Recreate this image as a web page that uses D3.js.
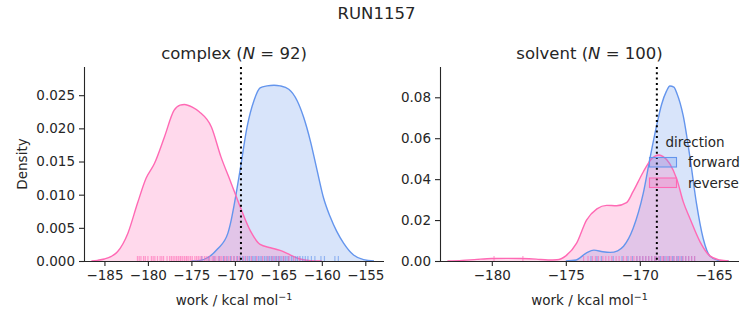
<!DOCTYPE html>
<html>
<head>
<meta charset="utf-8">
<script src="https://cdn.jsdelivr.net/npm/d3@7"></script>
<style>
  html, body { margin: 0; padding: 0; background: #fff; }
  svg text { font-family: "DejaVu Sans", sans-serif; fill: #262626; }
</style>
</head>
<body>
<svg id="chart" width="753" height="325"></svg>
<script>
// ---------------- data ----------------
const suptitle = "RUN1157";
const directions = ["forward", "reverse"];
const colors = { forward: "#6495ED", reverse: "#FF69B4" };

// complex panel
const complexN = 92;
const complexTicksX = [-185, -180, -175, -170, -165, -160, -155];
const complexTicksY = [0, 0.005, 0.010, 0.015, 0.020, 0.025];
const complexForwardKDE = [
  [-175, 0], [-174, 0.0001], [-173, 0.0006], [-172, 0.0018], [-170.8, 0.0042],
  [-170.5, 0.0057], [-170.05, 0.0087], [-169.4, 0.0137], [-168.6, 0.0202],
  [-167.8, 0.0242], [-167.1, 0.0261], [-166.3, 0.0264], [-165.5, 0.0265],
  [-164.8, 0.0264], [-163.8, 0.0259], [-162.85, 0.0242], [-162.1, 0.0217],
  [-161.3, 0.0180], [-160.55, 0.0137], [-159.8, 0.0095], [-159.05, 0.0067],
  [-158.3, 0.0045], [-157.5, 0.0027], [-156.35, 0.0009], [-155.2, 0.0002], [-154, 0]
];
const complexReverseKDE = [
  [-186.5, 0], [-185.8, 0.0001], [-185, 0.0003], [-184.2, 0.0007], [-183.5, 0.0014],
  [-182.3, 0.0042], [-181.2, 0.0087], [-180.2, 0.0125], [-179.25, 0.0147],
  [-178.1, 0.0187], [-177, 0.0227], [-176.3, 0.0235], [-175.8, 0.0236],
  [-174.9, 0.0232], [-174.1, 0.0225], [-172.7, 0.0202], [-171.6, 0.0157],
  [-170.5, 0.0120], [-169.4, 0.0082], [-168.2, 0.0045], [-167.1, 0.0025],
  [-165.9, 0.0020], [-164.8, 0.0016], [-163.6, 0.0009], [-162.5, 0.0003],
  [-161.3, 0.00005], [-160, 0]
];
const complexForwardRug = [-173.8,-173.0,-172.4,-171.8,-171.3,-170.9,-170.5,-170.1,-169.7,-169.4,-169.1,-168.8,-168.5,-168.3,-168.0,-167.8,-167.6,-167.3,-167.1,-166.9,-166.6,-166.4,-166.2,-166.0,-165.8,-165.6,-165.4,-165.2,-165.0,-164.8,-164.6,-164.4,-164.2,-164.0,-163.8,-163.5,-163.3,-163.0,-162.8,-162.5,-162.2,-161.9,-161.6,-161.2,-160.8,-160.1,-159.7,-158.5,-158.1];
const complexReverseRug = [-181.2,-181.0,-180.8,-180.5,-180.3,-180.0,-179.6,-179.4,-179.2,-178.9,-178.6,-178.4,-178.2,-177.8,-177.5,-177.3,-177.1,-176.9,-176.7,-176.5,-176.3,-176.2,-176.0,-175.8,-175.6,-175.5,-175.3,-175.1,-174.9,-174.6,-174.4,-174.2,-174.0,-173.8,-173.5,-173.3,-173.1,-172.9,-172.6,-172.4,-172.2,-171.9,-171.7,-171.5,-171.2,-171.0,-170.7,-170.4,-170.1,-169.8,-169.5,-169.0,-168.6,-168.1,-167.5,-166.8,-166.2,-165.7,-165.3,-164.9,-164.4,-163.8,-163.2,-162.6];
const complexDeltaG = -169.3;

// solvent panel
const solventN = 100;
const solventTicksX = [-180, -175, -170, -165];
const solventTicksY = [0, 0.02, 0.04, 0.06, 0.08];
const solventForwardKDE = [
  [-175, 0], [-174.3, 0.0005], [-173.6, 0.0040], [-173.1, 0.0053], [-172.5, 0.0045],
  [-172.0, 0.0042], [-171.5, 0.0050], [-171.1, 0.0072], [-170.45, 0.0160],
  [-169.77, 0.0330], [-169.32, 0.0500], [-168.87, 0.0660], [-168.53, 0.0765],
  [-168.2, 0.0830], [-167.97, 0.0855], [-167.7, 0.0850], [-167.5, 0.0820],
  [-167.07, 0.0710], [-166.6, 0.0500], [-166.17, 0.0280], [-165.72, 0.0110],
  [-165.27, 0.0025], [-164.6, 0.0002], [-164, 0]
];
const solventReverseKDE = [
  [-183, 0], [-182, 0.0003], [-181, 0.0008], [-180, 0.0012], [-179, 0.0013],
  [-178, 0.0012], [-177, 0.0009], [-176.2, 0.0005], [-175.6, 0.0006],
  [-175.0, 0.0025], [-174.27, 0.0087], [-173.6, 0.0200], [-172.9, 0.0255],
  [-172.24, 0.0272], [-171.57, 0.0270], [-170.9, 0.0285], [-170.45, 0.0340],
  [-169.77, 0.0435], [-169.2, 0.0500], [-168.7, 0.0518], [-168.42, 0.0510],
  [-167.97, 0.0475], [-167.5, 0.0400], [-167.07, 0.0290], [-166.6, 0.0205],
  [-165.94, 0.0095], [-165.27, 0.0025], [-164.6, 0.0005], [-164, 0]
];
const solventForwardRug = [-173.3,-172.9,-172.6,-171.8,-171.2,-170.8,-170.5,-170.2,-170.0,-169.8,-169.6,-169.4,-169.2,-169.0,-168.9,-168.7,-168.6,-168.4,-168.3,-168.1,-168.0,-167.8,-167.7,-167.5,-167.4,-167.2,-167.1,-166.9,-166.7,-166.5,-166.3];
const solventReverseRug = [-179.85,-177.9,-173.8,-173.5,-173.2,-173.0,-172.8,-172.5,-172.3,-172.1,-171.9,-171.6,-171.4,-171.1,-170.9,-170.6,-170.4,-170.2,-170.0,-169.8,-169.6,-169.4,-169.2,-169.0,-168.9,-168.7,-168.5,-168.4,-168.2,-168.0,-167.9,-167.7,-167.5,-167.3,-167.1,-166.9,-166.7,-166.5,-166.3];
const solventDeltaG = -168.85;

// ---------------- drawing ----------------
const svg = d3.select("#chart");
const TICK_FONT = 13.5, TITLE_FONT = 16.5;

svg.append("text").attr("x", 376.5).attr("y", 19)
  .attr("text-anchor", "middle").style("font-size", TITLE_FONT + "px").text(suptitle);

function panel(opt) {
  const x = d3.scaleLinear().domain(opt.xDomain).range([opt.left, opt.right]);
  const y = d3.scaleLinear().domain(opt.yDomain).range([opt.bottom, opt.top]);
  const g = svg.append("g");

  const area = d3.area().x(d => x(d[0])).y0(y(0)).y1(d => y(d[1])).curve(d3.curveMonotoneX);
  const line = d3.line().x(d => x(d[0])).y(d => y(d[1])).curve(d3.curveMonotoneX);

  const clipId = "clip" + opt.left;
  svg.append("clipPath").attr("id", clipId).append("rect")
    .attr("x", opt.left).attr("y", opt.top).attr("width", opt.right - opt.left).attr("height", opt.bottom - opt.top);
  const plot = g.append("g").attr("clip-path", `url(#${clipId})`);

  directions.forEach(dir => {
    plot.append("path").datum(opt.kde[dir]).attr("d", area)
      .attr("fill", colors[dir]).attr("fill-opacity", 0.25).attr("stroke", "none");
  });
  directions.forEach(dir => {
    plot.append("path").datum(opt.kde[dir]).attr("d", line)
      .attr("fill", "none").attr("stroke", colors[dir]).attr("stroke-width", 1.4);
  });
  // rugs
  const rugH = 5;
  directions.forEach(dir => {
    plot.selectAll(null).data(opt.rug[dir]).enter().append("line")
      .attr("x1", d => x(d)).attr("x2", d => x(d))
      .attr("y1", opt.bottom).attr("y2", opt.bottom - rugH)
      .attr("stroke", colors[dir]).attr("stroke-opacity", 0.6).attr("stroke-width", 1.2);
  });
  // dotted line
  plot.append("line").attr("x1", x(opt.dg)).attr("x2", x(opt.dg))
    .attr("y1", opt.top).attr("y2", opt.bottom)
    .attr("stroke", "#000").attr("stroke-width", 2).attr("stroke-dasharray", "2,3.3");

  // axes
  const xAxis = d3.axisBottom(x).tickValues(opt.xTicks).tickSize(5).tickPadding(4)
    .tickFormat(d => d3.format("d")(d).replace("-", "\u2212"));
  const gx = g.append("g").attr("transform", `translate(0,${opt.bottom})`).call(xAxis);
  const yAxis = d3.axisLeft(y).tickValues(opt.yTicks).tickSize(5).tickPadding(4)
    .tickFormat(d3.format(opt.yFmt));
  const gy = g.append("g").attr("transform", `translate(${opt.left},0)`).call(yAxis);
  [gx, gy].forEach(a => {
    a.select(".domain").attr("stroke", "#262626").attr("stroke-width", 1.1);
    a.selectAll(".tick line").attr("stroke", "#262626").attr("stroke-width", 1.1);
    a.selectAll(".tick text").style("font-size", TICK_FONT + "px")
      .style("font-family", "DejaVu Sans").attr("fill", "#262626");
  });
  gx.select(".domain").attr("d", `M${opt.left},0.5H${opt.right}`);
  gy.select(".domain").attr("d", `M0.5,${opt.bottom}V${opt.top}`);

  // title
  const t = svg.append("text").attr("x", (opt.left + opt.right) / 2).attr("y", 59)
    .attr("text-anchor", "middle").style("font-size", TITLE_FONT + "px");
  t.append("tspan").text(opt.name + " (");
  t.append("tspan").style("font-style", "italic").text("N");
  t.append("tspan").text(" = " + opt.n + ")");

  // x label
  const xl = svg.append("text").attr("x", (opt.left + opt.right) / 2).attr("y", 305)
    .attr("text-anchor", "middle").style("font-size", TICK_FONT + "px");
  xl.append("tspan").text("work / kcal mol");
  xl.append("tspan").attr("dy", -5).style("font-size", "9.5px").text("\u22121");
  return { x, y };
}

panel({
  name: "complex", n: complexN,
  left: 84, right: 384, top: 67, bottom: 261,
  xDomain: [-187.35, -152.85], yDomain: [0, 0.02925],
  xTicks: complexTicksX, yTicks: complexTicksY, yFmt: ".3f",
  kde: { forward: complexForwardKDE, reverse: complexReverseKDE },
  rug: { forward: complexForwardRug, reverse: complexReverseRug },
  dg: complexDeltaG
});
panel({
  name: "solvent", n: solventN,
  left: 440, right: 739, top: 67, bottom: 261,
  xDomain: [-183.5, -163.3], yDomain: [0, 0.0948],
  xTicks: solventTicksX, yTicks: solventTicksY, yFmt: ".2f",
  kde: { forward: solventForwardKDE, reverse: solventReverseKDE },
  rug: { forward: solventForwardRug, reverse: solventReverseRug },
  dg: solventDeltaG
});

// y label
svg.append("text").attr("transform", "translate(27,164) rotate(-90)")
  .attr("text-anchor", "middle").style("font-size", TICK_FONT + "px").text("Density");

// legend
const leg = svg.append("g");
leg.append("text").attr("x", 695).attr("y", 147).attr("text-anchor", "middle")
  .style("font-size", TICK_FONT + "px").text("direction");
directions.forEach((dir, i) => {
  const yy = 157.5 + i * 20.5;
  leg.append("rect").attr("x", 649.5).attr("y", yy).attr("width", 27).attr("height", 9.5)
    .attr("fill", colors[dir]).attr("fill-opacity", 0.25)
    .attr("stroke", colors[dir]).attr("stroke-width", 1.1);
  leg.append("text").attr("x", 688).attr("y", yy + 9.5).style("font-size", TICK_FONT + "px").text(dir);
});
</script>
</body>
</html>
